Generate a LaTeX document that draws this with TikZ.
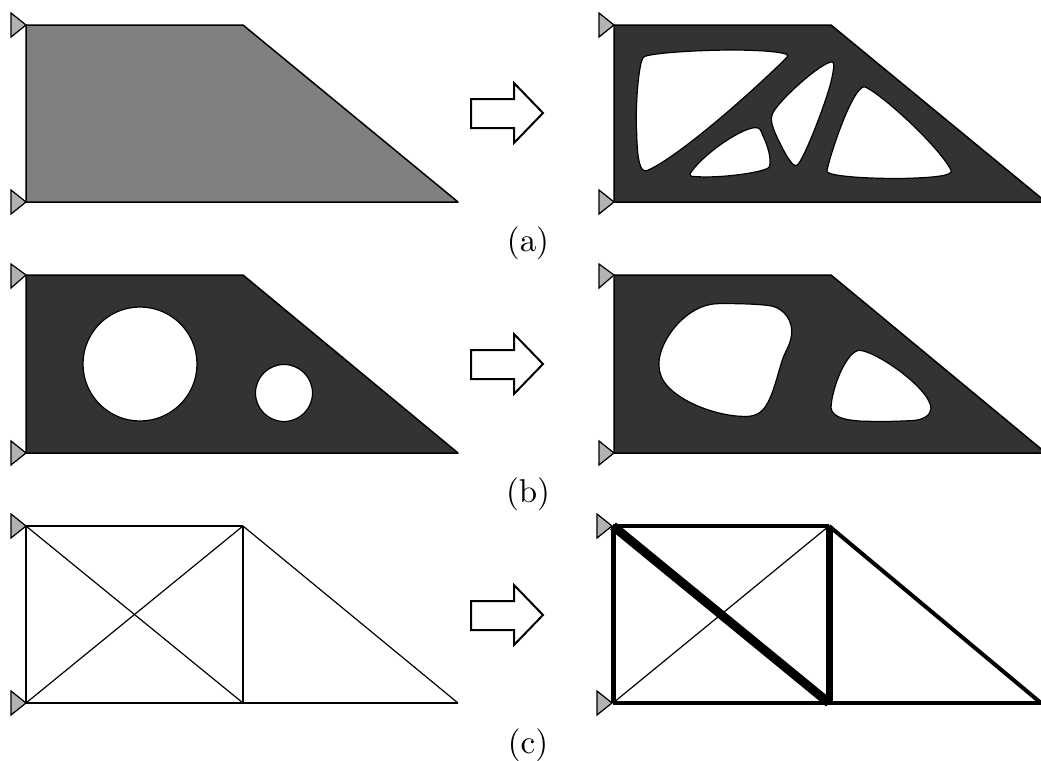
\documentclass[tikz,border=0pt]{standalone}

\font\capfont=cmr10 at 16.5pt
\tikzset{
  panel/.style={draw=black,line width=0.75pt,line join=round},
  design/.style={panel,fill=black!50!white},
  solid-part/.style={panel,fill=black!80!white},
  hole/.style={draw=black,fill=white,line width=0.6pt},
  support/.style={draw=black,fill=black!30!white,line width=0.6pt,line join=miter},
  bigarrow/.style={draw=black,fill=white,line width=1pt,line join=miter},
  bar/.style={draw=black,line width=#1,line cap=butt},
  caption/.style={inner sep=0pt,font=\capfont},
  zoomed/.style={x=0.16667pt,y=-0.16667pt}
}

\begin{document}
\begin{tikzpicture}[x=0.5pt,y=-0.5pt]
\useasboundingbox (0,0) rectangle (1041,761);
% row a
\path[design] (26,25) -- (243,25) -- (458,202) -- (26,202) -- cycle;
\path[support] (26,25) -- (11,13) -- (11,37) -- cycle;
\path[support] (26,202) -- (11,190) -- (11,214) -- cycle;
\path[bigarrow] (471,99) -- (514,99) -- (514,83) -- (543,113) -- (514,143) -- (514,128) -- (471,128) -- cycle;
\path[solid-part] (614,25) -- (831,25) -- (1046,202) -- (614,202) -- cycle;
\path[support] (614,25) -- (599,13) -- (599,37) -- cycle;
\path[support] (614,202) -- (599,190) -- (599,214) -- cycle;
\begin{scope}[shift={(590,0)},zoomed]
\path[hole] (160,172) .. controls (170,155) and (500,138) .. (588,162) .. controls (598,168) and (590,172) .. (585,178) .. controls (450,310) and (250,480) .. (170,512) .. controls (150,518) and (142,480) .. (140,400) .. controls (135,330) and (145,190) .. (160,172) -- cycle;
\path[hole] (300,522) .. controls (330,470) and (450,385) .. (495,383) .. controls (510,382) and (512,390) .. (518,405) .. controls (535,440) and (545,480) .. (538,500) .. controls (535,515) and (400,535) .. (320,530) .. controls (300,530) and (298,526) .. (300,522) -- cycle;
\path[hole] (728,186) .. controls (735,190) and (730,215) .. (722,250) .. controls (700,330) and (640,480) .. (622,495) .. controls (610,505) and (590,470) .. (570,430) .. controls (550,390) and (540,365) .. (546,345) .. controls (555,310) and (700,180) .. (728,186) -- cycle;
\path[hole] (822,260) .. controls (860,270) and (1040,430) .. (1083,510) .. controls (1090,525) and (1050,532) .. (950,535) .. controls (850,537) and (720,530) .. (711,515) .. controls (708,505) and (780,270) .. (822,260) -- cycle;
\end{scope}
\node[caption] (label-a) at (528,243) {(a)};
% row b
\path[solid-part] (26,275) -- (243,275) -- (458,453) -- (26,453) -- cycle;
\path[hole] (140,364) circle (57);
\path[hole] (284,393) circle (28.5);
\path[support] (26,275) -- (11,264) -- (11,288) -- cycle;
\path[support] (26,453) -- (11,441) -- (11,465) -- cycle;
\path[bigarrow] (471,350) -- (514,350) -- (514,334) -- (543,364) -- (514,394) -- (514,379) -- (471,379) -- cycle;
\path[solid-part] (614,275) -- (831,275) -- (1046,453) -- (614,453) -- cycle;
\path[support] (614,275) -- (599,264) -- (599,288) -- cycle;
\path[support] (614,453) -- (599,441) -- (599,465) -- cycle;
\begin{scope}[shift={(590,255)},zoomed]
\path[hole] (380,146) .. controls (440,145) and (510,147) .. (545,153) .. controls (585,162) and (608,200) .. (605,235) .. controls (603,265) and (588,285) .. (578,312) .. controls (565,350) and (555,400) .. (535,440) .. controls (515,480) and (490,486) .. (455,484) .. controls (390,482) and (300,452) .. (250,410) .. controls (220,385) and (205,360) .. (207,320) .. controls (212,250) and (290,150) .. (380,146) -- cycle;
\path[hole] (810,286) .. controls (860,290) and (1020,400) .. (1023,460) .. controls (1023,480) and (1000,497) .. (960,497) .. controls (920,499) and (880,500) .. (840,499) .. controls (780,499) and (725,490) .. (723,458) .. controls (725,400) and (770,285) .. (810,286) -- cycle;
\end{scope}
\node[caption] (label-b) at (528,494) {(b)};
% row c
\coordinate (l-tl) at (26,526);
\coordinate (l-tm) at (243,526);
\coordinate (l-bl) at (26,703);
\coordinate (l-bm) at (243,703);
\coordinate (l-br) at (458,703);
\draw[bar=0.6pt] (l-tl) -- (l-tm);
\draw[bar=0.6pt] (l-tl) -- (l-bl);
\draw[bar=0.6pt] (l-tl) -- (l-bm);
\draw[bar=0.6pt] (l-bl) -- (l-tm);
\draw[bar=0.6pt] (l-tm) -- (l-bm);
\draw[bar=0.6pt] (l-tm) -- (l-br);
\draw[bar=0.6pt] (l-bl) -- (l-bm);
\draw[bar=0.6pt] (l-bm) -- (l-br);
\path[support] (26,526) -- (11,514) -- (11,538) -- cycle;
\path[support] (26,703) -- (11,691) -- (11,715) -- cycle;
\path[bigarrow] (471,601) -- (514,601) -- (514,585) -- (543,615) -- (514,645) -- (514,630) -- (471,630) -- cycle;
\path[support] (612,526) -- (597,514) -- (597,538) -- cycle;
\path[support] (612,703) -- (597,691) -- (597,715) -- cycle;
\coordinate (r-tl) at (613,526);
\coordinate (r-tm) at (829,526);
\coordinate (r-bl) at (613,703);
\coordinate (r-bm) at (829,703);
\coordinate (r-br) at (1041,703);
\draw[bar=2pt] (r-tl) -- (r-tm);
\draw[bar=2.5pt] (r-tl) -- (r-bl);
\draw[bar=4.5pt] (r-tl) -- (r-bm);
\draw[bar=0.6pt] (r-bl) -- (r-tm);
\draw[bar=3.5pt] (r-tm) -- (r-bm);
\draw[bar=2pt] (r-tm) -- (r-br);
\draw[bar=2pt] (r-bl) -- (r-bm);
\draw[bar=2pt] (r-bm) -- (r-br);
\node[caption] (label-c) at (528,745) {(c)};
\end{tikzpicture}
\end{document}
